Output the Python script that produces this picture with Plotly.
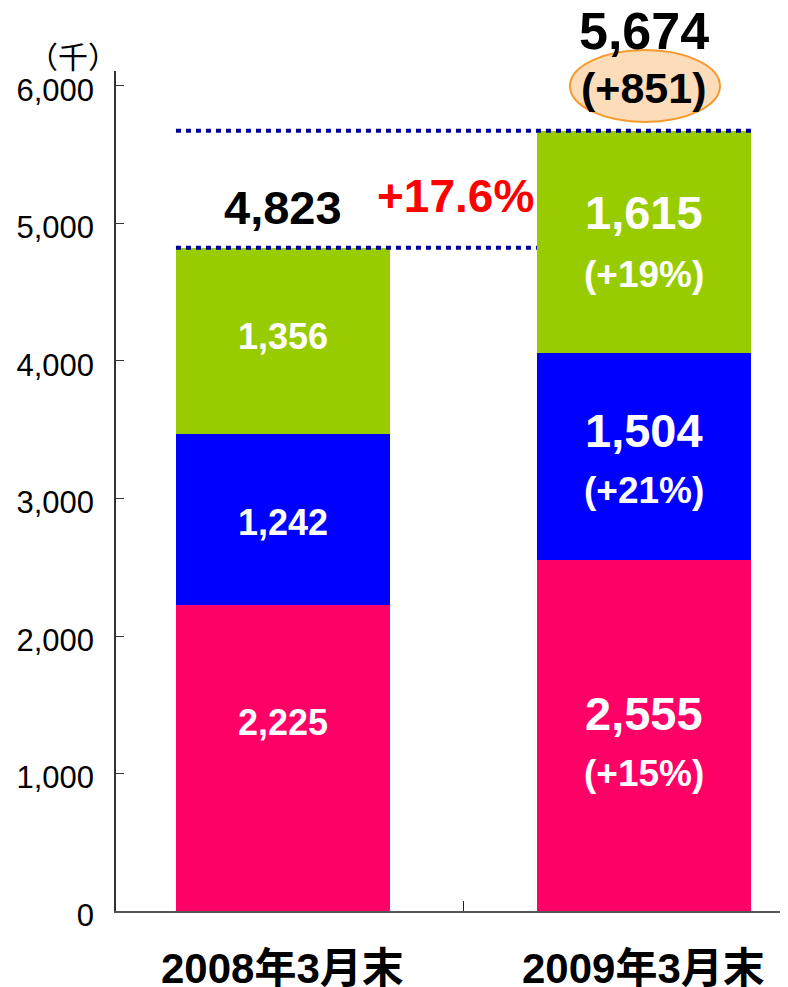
import plotly.graph_objects as go

categories = ["2008年3月末", "2009年3月末"]
pink_vals = [2225, 2555]
blue_vals = [1242, 1504]
green_vals = [1356, 1615]
totals = [4823, 5674]
total_diff_text = "(+851)"
growth_text = "+17.6%"
pct_pink = [None, "(+15%)"]
pct_blue = [None, "(+21%)"]
pct_green = [None, "(+19%)"]
y_ticks = [0, 1000, 2000, 3000, 4000, 5000, 6000]
unit_label = "（千）"

PINK = "#FF0066"
BLUE = "#0000FF"
GREEN = "#99CC00"
NAVY = "#000099"
FONT = "Liberation Sans, Arial, Noto Sans CJK JP, sans-serif"
BAR_W = 0.593

fig = go.Figure()
for vals, col in [(pink_vals, PINK), (blue_vals, BLUE), (green_vals, GREEN)]:
    fig.add_trace(go.Bar(x=categories, y=vals, marker=dict(color=col, line=dict(width=0)),
                         width=BAR_W, showlegend=False, hoverinfo="skip"))

ann = []
segs = [(pink_vals, pct_pink), (blue_vals, pct_blue), (green_vals, pct_green)]
shift_b1 = [36, -3, 5]
shift_b2_val = [22, 26, 29]
shift_b2_pct = [-38, -34, -33]
base = [0, 0]
C = dict(xanchor="center", yanchor="middle", showarrow=False)
for si, (vals, pcts) in enumerate(segs):
    for ci in range(2):
        mid = base[ci] + vals[ci] / 2
        txt = f"{vals[ci]:,}"
        if ci == 0:
            ann.append(dict(x=categories[ci], y=mid, xref="x", yref="y", text=f"<b>{txt}</b>",
                            yshift=shift_b1[si], font=dict(family=FONT, size=36, color="white"), **C))
        else:
            ann.append(dict(x=categories[ci], y=mid, xref="x", yref="y", text=f"<b>{txt}</b>",
                            yshift=shift_b2_val[si], font=dict(family=FONT, size=47, color="white"), **C))
            ann.append(dict(x=categories[ci], y=mid, xref="x", yref="y", text=f"<b>{pcts[ci]}</b>",
                            yshift=shift_b2_pct[si], font=dict(family=FONT, size=37, color="white"), **C))
        base[ci] += vals[ci]

ann.append(dict(x=categories[0], y=totals[0], xref="x", yref="y", text=f"<b>{totals[0]:,}</b>",
                yshift=40, font=dict(family=FONT, size=47, color="black"), **C))
ann.append(dict(x=categories[1], y=totals[1], xref="x", yref="y", text=f"<b>{totals[1]:,}</b>",
                yshift=100, font=dict(family=FONT, size=52, color="black"), **C))
ann.append(dict(x=categories[1], y=totals[1], xref="x", yref="y", text=f"<b>{total_diff_text}</b>",
                yshift=43, font=dict(family=FONT, size=43, color="black"), **C))
ann.append(dict(x=0.4765, y=totals[0], xref="x", yref="y", text=f"<b>{growth_text}</b>",
                yshift=52, font=dict(family=FONT, size=46, color="#FF0000"), **C))
ann.append(dict(x=0, y=1, xref="paper", yref="paper", text=unit_label,
                xshift=-43, yshift=16, font=dict(family="Noto Sans CJK JP", size=30, color="black"), **C))
for c in categories:
    ann.append(dict(x=c, y=0, xref="x", yref="paper", text=f"<b>{c}</b>",
                    yshift=-57, font=dict(family=FONT, size=42, color="black"), **C))

shapes = [
    dict(type="circle", xref="x", yref="paper", xsizemode="pixel", ysizemode="pixel",
         xanchor=1, yanchor=1, x0=-74, x1=76, y0=-51, y1=21,
         fillcolor="#FDDCBA", line=dict(color="#F79A2E", width=2), layer="below"),
    dict(type="line", xref="x", yref="y", x0=0 - BAR_W / 2, x1=1 + BAR_W / 2,
         y0=totals[1], y1=totals[1], line=dict(color=NAVY, width=4, dash="5px,5px")),
    dict(type="line", xref="x", yref="y", x0=0 - BAR_W / 2, x1=1 - BAR_W / 2,
         y0=totals[0], y1=totals[0], line=dict(color=NAVY, width=4, dash="5px,5px")),
]

fig.update_layout(
    width=780, height=979, barmode="stack",
    margin=dict(l=108, r=0, t=62.7, b=76.3, autoexpand=False),
    plot_bgcolor="white", paper_bgcolor="white",
    annotations=ann, shapes=shapes,
    xaxis=dict(range=[-0.4626, 1.399], showline=True, linecolor="#555", linewidth=1.5,
               ticks="inside", tickson="boundaries", ticklen=10, tickcolor="#222",
               showticklabels=False, showgrid=False, zeroline=False, automargin=False),
    yaxis=dict(range=[0, 6109], tickvals=y_ticks, tickformat=",", showline=True,
               linecolor="#333", linewidth=1.5, ticks="inside", ticklen=8, tickcolor="#333",
               showgrid=False, zeroline=False, ticklabelstandoff=14, ticklabelshift=4,
               automargin=False, tickfont=dict(family=FONT, size=31, color="black")),
)

fig.write_html("out.html")
